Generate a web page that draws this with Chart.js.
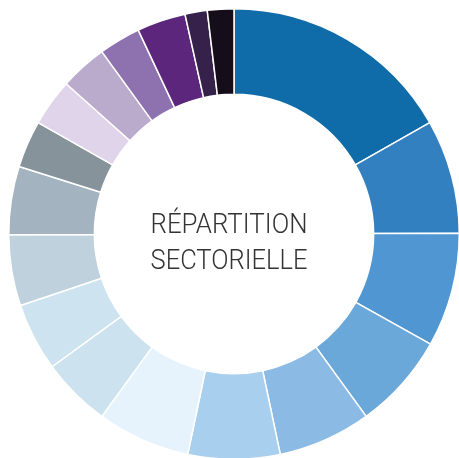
<!DOCTYPE html>
<html>
<head>
<meta charset="utf-8">
<script src="https://cdn.jsdelivr.net/npm/chart.js@4"></script>
<style>
  html, body { margin: 0; padding: 0; background: #fff; overflow: hidden; }
  #wrap { width: 461px; height: 460px; }
</style>
</head>
<body>
<div id="wrap"><canvas id="sectorChart"></canvas></div>
<script>
// secteurs (en %)
const categories = [
  "Secteur 1", "Secteur 2", "Secteur 3", "Secteur 4", "Secteur 5", "Secteur 6",
  "Secteur 7", "Secteur 8", "Secteur 9", "Secteur 10", "Secteur 11", "Secteur 12",
  "Secteur 13", "Secteur 14", "Secteur 15", "Secteur 16", "Secteur 17", "Secteur 18"
];
const weights = [16.8, 8.2, 8.2, 6.9, 6.7, 6.6, 6.7, 5.0, 4.9, 5.1, 4.9, 3.4, 3.4, 3.4, 3.0, 3.5, 1.6, 1.9];
const colors = [
  "#106ca8", "#3380c0", "#5096d2", "#6ba8da", "#8bbbe4", "#a8cfee",
  "#e6f3fc", "#cce2ef", "#cde3f0", "#bed1dd", "#a3b3bf", "#86939b",
  "#e0d4ea", "#baaacb", "#8e72b0", "#5b267c", "#35214a", "#150d1a"
];
const centerLines = ["RÉPARTITION", "SECTORIELLE"];

// texte au centre
const centerText = {
  id: "centerText",
  afterDraw(chart) {
    const { ctx } = chart;
    const meta = chart.getDatasetMeta(0).data[0];
    const cx = meta.x - 5, cy = meta.y;
    ctx.save();
    ctx.fillStyle = "#333333";
    ctx.font = "300 28px Roboto";
    ctx.textAlign = "center";
    ctx.textBaseline = "middle";
    centerLines.forEach((line, i) => {
      const w = ctx.measureText(line).width;
      const sx = 157 / w;
      ctx.save();
      ctx.translate(cx, cy - 8 + i * 36);
      ctx.scale(sx, 1);
      ctx.fillText(line, 0, 0);
      ctx.restore();
    });
    ctx.restore();
  }
};

new Chart(document.getElementById("sectorChart").getContext("2d"), {
  type: "doughnut",
  data: {
    labels: categories,
    datasets: [{
      data: weights,
      backgroundColor: colors,
      borderColor: "#ffffff",
      borderWidth: 1.5,
      hoverOffset: 0
    }]
  },
  options: {
    responsive: true,
    maintainAspectRatio: false,
    animation: false,
    cutout: "62%",
    layout: { padding: { left: 7, top: 8, right: 0, bottom: 0 } },
    plugins: {
      legend: { display: false },
      tooltip: { enabled: false }
    }
  },
  plugins: [centerText]
});
</script>
</body>
</html>
